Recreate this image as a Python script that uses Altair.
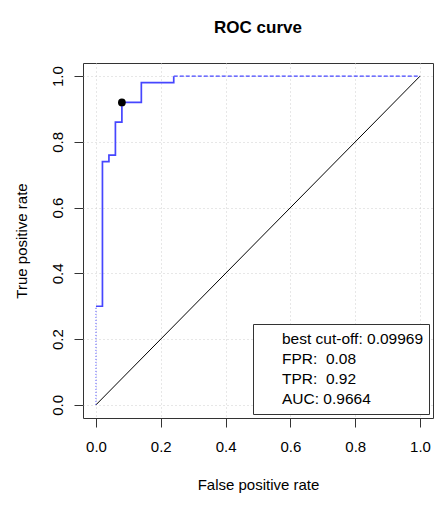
import altair as alt
import pandas as pd

# ROC curve steps
fpr = [0.0, 0.0, 0.02, 0.02, 0.04, 0.04, 0.06, 0.06, 0.08, 0.08, 0.14, 0.14, 0.24, 0.24, 1.0]
tpr = [0.0, 0.30, 0.30, 0.74, 0.74, 0.76, 0.76, 0.86, 0.86, 0.92, 0.92, 0.98, 0.98, 1.0, 1.0]
# which piece each segment start belongs to: dotted start, solid steps, dashed end
part = ["dot", "solid", "solid", "solid", "solid", "solid", "solid", "solid",
        "solid", "solid", "solid", "solid", "solid", "dash", "dash"]

best_fpr = [0.08]
best_tpr = [0.92]
diag_x = [0.0, 1.0]
diag_y = [0.0, 1.0]

# non-breaking space keeps R's double space after "FPR:" and "TPR:"
legend_lines = ["best cut-off: 0.09969", "FPR: \u00a00.08", "TPR: \u00a00.92", "AUC: 0.9664"]
ticks = [0.0, 0.2, 0.4, 0.6, 0.8, 1.0]

FONT = "Liberation Sans"
BLUE = "#4646ff"

rows = []
for i in range(len(fpr)):
    rows.append({"fpr": fpr[i], "tpr": tpr[i], "i": i, "part": part[i]})
    # the point that starts a new piece also closes the previous one
    if i > 0 and part[i] != part[i - 1]:
        rows.append({"fpr": fpr[i], "tpr": tpr[i], "i": i, "part": part[i - 1]})
roc = pd.DataFrame(rows)

xs = alt.Scale(domain=[-0.04, 1.04], nice=False, zero=False)
ys = alt.Scale(domain=[-0.04, 1.04], nice=False, zero=False)
xax = alt.Axis(values=ticks, format=".1f", title="False positive rate",
               labelPadding=12, titlePadding=23)
yax = alt.Axis(values=ticks, format=".1f", title="True positive rate",
               labelAngle=270, labelAlign="center", labelBaseline="alphabetic",
               labelPadding=12, titlePadding=21)

base = alt.Chart(roc).encode(
    x=alt.X("fpr:Q", scale=xs, axis=xax),
    y=alt.Y("tpr:Q", scale=ys, axis=yax),
    order="i:Q",
)

dotted = base.transform_filter(alt.datum.part == "dot").mark_line(
    color=BLUE, strokeWidth=1, strokeDash=[1, 2])
solid = base.transform_filter(alt.datum.part == "solid").mark_line(
    color=BLUE, strokeWidth=1.7)
dashed = base.transform_filter(alt.datum.part == "dash").mark_line(
    color=BLUE, strokeWidth=1.3, strokeDash=[4, 2])

diag = alt.Chart(pd.DataFrame({"x": diag_x, "y": diag_y})).mark_line(
    color="black", strokeWidth=1).encode(x=alt.X("x:Q", scale=xs), y=alt.Y("y:Q", scale=ys))

best = alt.Chart(pd.DataFrame({"x": best_fpr, "y": best_tpr})).mark_point(
    filled=True, color="black", opacity=1, size=60).encode(
    x=alt.X("x:Q", scale=xs), y=alt.Y("y:Q", scale=ys))

# text-only legend box, as R's legend("bottomright", ...)
leg = alt.Chart(pd.DataFrame({"txt": legend_lines})).mark_point(opacity=0).encode(
    color=alt.Color("txt:N", sort=legend_lines,
                    scale=alt.Scale(range=["black"]),
                    legend=alt.Legend(title=None, orient="bottom-right")),
)

chart = alt.layer(diag, dotted, solid, dashed, best, leg).properties(
    width=350, height=355,
    title=alt.TitleParams("ROC curve", font=FONT, fontSize=17, fontWeight="bold",
                          anchor="middle", baseline="alphabetic", offset=13),
    autosize=alt.AutoSizeParams(type="none"),
    padding={"left": 75, "top": 55, "right": 3, "bottom": 80},
).configure_view(
    stroke="#333333", strokeWidth=1,
).configure_axis(
    domain=False, grid=True, gridColor="#cfcfcf", gridDash=[1, 3], gridWidth=1,
    tickSize=9, tickColor="#333333", tickWidth=1,
    labelFont=FONT, labelFontSize=15, labelColor="black",
    titleFont=FONT, titleFontSize=15, titleFontWeight="normal", titleColor="black",
).configure_legend(
    offset=4, padding=5, strokeColor="#333333", fillColor="white",
    symbolType="square", symbolSize=400, symbolOpacity=0, symbolStrokeWidth=0,
    labelOffset=4, labelFont=FONT, labelFontSize=15.5, labelColor="black",
    labelLimit=300, rowPadding=0,
)

chart.save("out.html", embed_options={"renderer": "svg", "actions": False})
